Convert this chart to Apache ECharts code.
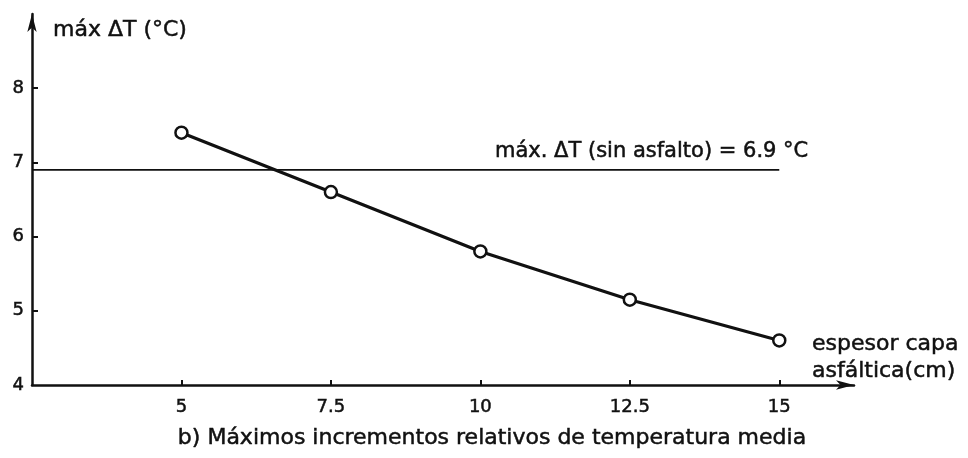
<!DOCTYPE html>
<html>
<head>
<meta charset="utf-8">
<script src="https://cdn.jsdelivr.net/npm/echarts@6/dist/echarts.min.js"></script>
<style>
  html, body { margin: 0; padding: 0; background: #fff; }
  #chart { width: 968px; height: 458px; }
</style>
</head>
<body>
<div id="chart"></div>
<script>
// Asphalt layer thickness (cm) and the resulting max mean-temperature rise (°C)
const thickness = [5, 7.5, 10, 12.5, 15];
const maxDeltaT = [7.4, 6.6, 5.8, 5.15, 4.6];
// Reference value without asphalt
const baselineDeltaT = 6.9;
const baselineSpan = [2.5, 15];
// Axis tick labels
const xTicks = [5, 7.5, 10, 12.5, 15];
const yLabels = [4, 5, 6, 7, 8];
const yTicks = [5, 6, 7, 8];

const FONT = 'DejaVu Sans';
const INK = '#111';
// slight outline to give the lettering a drafted, heavier stroke
const heavy = { textBorderColor: INK, textBorderWidth: 0.5 };

const chart = echarts.init(document.getElementById('chart'), null, { renderer: 'canvas' });

chart.setOption({
  animation: false,
  backgroundColor: '#fff',
  grid: { left: 32, right: 114, top: 14, bottom: 73, containLabel: false },
  title: {
    text: 'b) Máximos incrementos relativos de temperatura media',
    left: 487,
    textAlign: 'center',
    top: 422,
    textStyle: Object.assign({ fontFamily: FONT, fontSize: 22, fontWeight: 'normal', color: INK }, heavy)
  },
  xAxis: {
    type: 'value',
    min: 2.5,
    max: 16.25,
    interval: 2.5,
    name: 'espesor capa\nasfáltica(cm)',
    nameLocation: 'end',
    nameGap: -42,
    nameTextStyle: Object.assign({
      fontFamily: FONT, fontSize: 22, color: INK,
      align: 'left', verticalAlign: 'bottom', lineHeight: 27, padding: [0, 0, 0, 0]
    }, heavy),
    axisLine: {
      lineStyle: { color: INK, width: 2.5 },
      symbol: ['none', 'arrow'],
      symbolSize: [7, 18]
    },
    axisTick: { show: true, inside: true, length: 5, lineStyle: { color: INK, width: 2 }, customValues: xTicks },
    axisLabel: Object.assign({ fontFamily: FONT, fontSize: 18, color: INK, margin: 13, customValues: xTicks }, heavy),
    splitLine: { show: false }
  },
  yAxis: {
    type: 'value',
    min: 4,
    max: 9,
    interval: 1,
    name: 'máx ΔT (°C)',
    nameLocation: 'end',
    nameGap: -16,
    nameTextStyle: Object.assign({
      fontFamily: FONT, fontSize: 22, color: INK,
      align: 'left', verticalAlign: 'middle', padding: [0, 0, 0, 21]
    }, heavy),
    axisLine: {
      show: true,
      lineStyle: { color: INK, width: 2.5 },
      symbol: ['none', 'arrow'],
      symbolSize: [7, 18]
    },
    axisTick: { show: true, inside: true, length: 6, lineStyle: { color: INK, width: 2 }, customValues: yTicks },
    axisLabel: Object.assign({ fontFamily: FONT, fontSize: 18, color: INK, margin: 8, customValues: yLabels }, heavy),
    splitLine: { show: false }
  },
  series: [
    {
      name: 'sin asfalto',
      type: 'line',
      data: baselineSpan.map(x => [x, baselineDeltaT]),
      symbol: 'none',
      lineStyle: { color: INK, width: 1.8 },
      endLabel: Object.assign({
        show: true,
        formatter: 'máx. ΔT (sin asfalto) = ' + baselineDeltaT + ' °C',
        fontFamily: FONT, fontSize: 21, color: INK,
        align: 'right',
        verticalAlign: 'bottom',
        distance: 0,
        offset: [29, -8]
      }, heavy),
      z: 1
    },
    {
      name: 'máx ΔT',
      type: 'line',
      data: thickness.map((x, i) => [x, maxDeltaT[i]]),
      symbol: 'circle',
      symbolSize: 12,
      itemStyle: { color: '#fff', borderColor: INK, borderWidth: 2.5 },
      lineStyle: { color: INK, width: 3.2 },
      z: 3
    }
  ]
});
</script>
</body>
</html>
